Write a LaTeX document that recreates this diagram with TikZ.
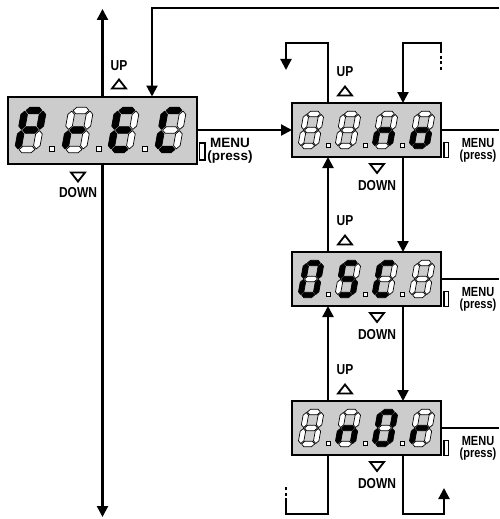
\documentclass[tikz,border=0pt]{standalone}
\usepackage{fontspec}
\setsansfont{Liberation Sans}
\usetikzlibrary{positioning, arrows.meta}

\begin{document}
\begin{tikzpicture}[
    x=1pt, y=-1pt,
    node distance=95pt,
    display/.style={
        rectangle,
        draw,
        line width=2pt,
        fill=black!20,
        inner sep=0pt,
        outer sep=0pt
    },
    bigdisplay/.style={
        display,
        minimum width=189pt,
        minimum height=67pt
    },
    smalldisplay/.style={
        display,
        minimum width=149pt,
        minimum height=54pt
    },
    flow/.style={
        >={Triangle[length=11pt, width=11pt]},
        ->,
        line width=2.2pt
    },
    wire/.style={
        line width=2.2pt
    },
    dashwire/.style={
        line width=2.2pt,
        dash pattern=on 3pt off 2.5pt
    },
    keylabel/.style={
        font=\sffamily\bfseries\fontsize{12}{12}\selectfont,
        yscale=1.2,
        transform shape,
        inner sep=0pt
    },
    menulabel/.style={
        font=\sffamily\bfseries\fontsize{11}{10}\selectfont,
        align=center,
        yscale=1.2,
        transform shape,
        inner sep=0pt
    },
    bigmenulabel/.style={
        font=\sffamily\bfseries\fontsize{13.5}{12.5}\selectfont,
        align=center,
        inner sep=0pt
    },
    menukey/.style={
        rectangle,
        draw,
        line width=1.5pt,
        fill=white,
        minimum width=4.5pt,
        minimum height=15pt,
        inner sep=0pt
    },
    pics/uptri/.style={code={
        \draw[line width=1.8pt, line join=miter] (-7,4.5) -- (7,4.5) -- (0,-4.5) -- cycle;
    }},
    pics/downtri/.style={code={
        \draw[line width=1.8pt, line join=miter] (-7,-4.5) -- (7,-4.5) -- (0,4.5) -- cycle;
    }},
    pics/segdigit/.style={code={
        \begin{scope}[xslant=0.18]
        \foreach \segk/\segs/\sege/\segp [count=\i from 0] in {0/-6.5/6.5/-16, 1/-15.5/-0.5/7.5, 1/0.5/15.5/7.5, 0/-6.5/6.5/16, 1/0.5/15.5/-7.5, 1/-15.5/-0.5/-7.5, 0/-6.5/6.5/0}{
            \pgfmathtruncatemacro\on{{#1}[\i]}
            \ifnum\on=1 \def\segcol{black}\else\def\segcol{white}\fi
            \ifnum\segk=0
                \filldraw[fill=\segcol, line width=0.7pt, line join=round] (\segs,\segp) -- (\segs+2.7,\segp-2.7) -- (\sege-2.7,\segp-2.7) -- (\sege,\segp) -- (\sege-2.7,\segp+2.7) -- (\segs+2.7,\segp+2.7) -- cycle;
            \else
                \filldraw[fill=\segcol, line width=0.7pt, line join=round] (\segp,\segs) -- (\segp+2.7,\segs+2.7) -- (\segp+2.7,\sege-2.7) -- (\segp,\sege) -- (\segp-2.7,\sege-2.7) -- (\segp-2.7,\segs+2.7) -- cycle;
            \fi
        }
        \end{scope}
    }}
]
    \useasboundingbox (0,0) rectangle (499,519);

    % Displays
    \node[bigdisplay] (prec) at (102.5,130) {};
    \node[smalldisplay, right=of prec] (selno) {};
    \node[smalldisplay, below=of selno] (selosc) {};
    \node[smalldisplay, below=of selosc] (selnor) {};

    % Digits
    \pic[scale=1.22] at ([xshift=-72pt]prec.center) {segdigit={1,1,0,0,1,1,1}};
    \pic[scale=1.22] at ([xshift=-25pt]prec.center) {segdigit={0,0,0,0,1,0,1}};
    \pic[scale=1.22] at ([xshift=21pt]prec.center) {segdigit={1,0,0,1,1,1,1}};
    \pic[scale=1.22] at ([xshift=68pt]prec.center) {segdigit={1,0,0,1,1,1,0}};

    \pic at ([xshift=-55.5pt]selno.center) {segdigit={0,0,0,0,0,0,0}};
    \pic at ([xshift=-18.5pt]selno.center) {segdigit={0,0,0,0,0,0,0}};
    \pic at ([xshift=18.5pt]selno.center) {segdigit={0,0,1,0,1,0,1}};
    \pic at ([xshift=55.5pt]selno.center) {segdigit={0,0,1,1,1,0,1}};

    \pic at ([xshift=-55.5pt]selosc.center) {segdigit={1,1,1,1,1,1,0}};
    \pic at ([xshift=-18.5pt]selosc.center) {segdigit={1,0,1,1,0,1,1}};
    \pic at ([xshift=18.5pt]selosc.center) {segdigit={1,0,0,1,1,1,0}};
    \pic at ([xshift=55.5pt]selosc.center) {segdigit={0,0,0,0,0,0,0}};

    \pic at ([xshift=-55.5pt]selnor.center) {segdigit={0,0,0,0,0,0,0}};
    \pic at ([xshift=-18.5pt]selnor.center) {segdigit={0,0,1,0,1,0,1}};
    \pic at ([xshift=18.5pt]selnor.center) {segdigit={1,1,1,1,1,1,0}};
    \pic at ([xshift=55.5pt]selnor.center) {segdigit={0,0,0,0,1,0,1}};

    % Decimal points
    \foreach \dx in {-50.5,-3.5,42.5}
        \filldraw[fill=white, line width=0.6pt] ([shift={(\dx,18.5)}]prec.center) +(-2.5,-2.5) rectangle +(2.5,2.5);
    \foreach \disp in {selno, selosc, selnor}
        \foreach \dx in {-38.5,-1.5,35.5}
            \filldraw[fill=white, line width=0.6pt] ([shift={(\dx,15)}]\disp.center) +(-2,-2) rectangle +(2,2);

    % UP / DOWN keys
    \node[keylabel] (precup) at ([shift={(16.5,-31)}]prec.north) {UP};
    \pic at ([shift={(16.5,-12.5)}]prec.north) {uptri};
    \pic at ([shift={(-24.5,13.5)}]prec.south) {downtri};
    \node[keylabel] (precdown) at ([shift={(-24.5,29)}]prec.south) {DOWN};

    \foreach \disp in {selno, selosc, selnor} {
        \node[keylabel] (\disp up) at ([shift={(-21.5,-31)}]\disp.north) {UP};
        \pic at ([shift={(-21.5,-12)}]\disp.north) {uptri};
        \pic at ([shift={(10.5,11.5)}]\disp.south) {downtri};
        \node[keylabel] (\disp down) at ([shift={(10.5,29)}]\disp.south) {DOWN};
    }

    % MENU keys
    \node[menukey, minimum width=5.5pt, minimum height=17pt] (preckey) at ([shift={(5,21.5)}]prec.east) {};
    \node[bigmenulabel] (precmenu) at ([shift={(33,21)}]prec.east) {MENU\\(press)};
    \foreach \disp in {selno, selosc, selnor} {
        \node[menukey] (\disp key) at ([shift={(5,20)}]\disp.east) {};
        \node[menulabel] (\disp menu) at ([shift={(37,20)}]\disp.east) {MENU\\(press)};
    }

    % Ends of the connectors
    \coordinate (rightedge) at (499,0);
    \coordinate (topend) at (102.5,9);
    \coordinate (botend) at (102.5,517);
    \coordinate (loopin) at (499,8);
    \coordinate (noprev) at (286,70);
    \coordinate (nodash) at (441,70);
    \coordinate (nodashend) at (441,52);
    \coordinate (nordash) at (286,487);
    \coordinate (nordashend) at (286,501);
    \coordinate (nornext) at (444,488);

    % UP / DOWN scrolling of the menus
    \draw[flow] (prec.north) -- (topend);
    \draw[flow] (prec.south) -- (botend);
    \draw[flow] (loopin) -| ([xshift=49.5pt]prec.north);

    % MENU enters the item
    \draw[flow] (prec.east) -- (selno.west);
    \draw[wire] (selno.east) -- (selno.east -| rightedge);
    \draw[wire] (selosc.east) -- (selosc.east -| rightedge);
    \draw[wire] (selnor.east) -- (selnor.east -| rightedge);

    % Scrolling of the values
    \draw[flow] ([xshift=-38.5pt]selno.north) -- ++(0,-60) -| (noprev);
    \draw[dashwire] (nodash) -- (nodashend);
    \draw[flow] (nodashend) -- ++(0,-9) -| ([xshift=36.5pt]selno.north);
    \draw[flow] ([xshift=36.5pt]selno.south) -- ([xshift=36.5pt]selosc.north);
    \draw[flow] ([xshift=-38.5pt]selosc.north) -- ([xshift=-38.5pt]selno.south);
    \draw[flow] ([xshift=36.5pt]selosc.south) -- ([xshift=36.5pt]selnor.north);
    \draw[flow] ([xshift=-38.5pt]selnor.north) -- ([xshift=-38.5pt]selosc.south);
    \draw[wire] ([xshift=-38.5pt]selnor.south) -- ++(0,59) -| (nordashend);
    \draw[dashwire] (nordashend) -- (nordash);
    \draw[flow] ([xshift=36.5pt]selnor.south) -- ++(0,59) -| (nornext);

\end{tikzpicture}
\end{document}
